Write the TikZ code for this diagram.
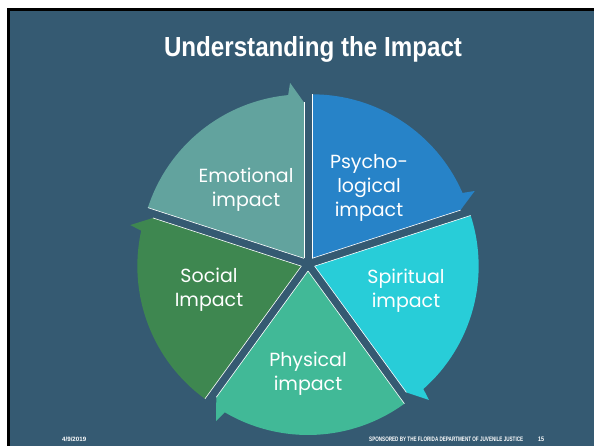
\documentclass[tikz,border=0pt]{standalone}
\usepackage{fontspec}
\setmainfont{Poppins}
\newfontfamily\titlefont{Liberation Sans}
\usetikzlibrary{calc}
\definecolor{bg}{HTML}{355A72}
\definecolor{emo}{HTML}{62A39E}
\definecolor{psy}{HTML}{2783C8}
\definecolor{spi}{HTML}{28CDD8}
\definecolor{phy}{HTML}{41B997}
\definecolor{soc}{HTML}{3E8750}
\tikzset{
  lbl/.style={text=white, align=center, inner sep=0pt, font=\fontsize{19}{24}\selectfont},
  edgeline/.style={white, line width=0.6pt},
  foot/.style={text=white, anchor=base west, inner sep=0pt}
}
\begin{document}
\begin{tikzpicture}[x=1pt,y=1pt]
\useasboundingbox (0,0) rectangle (594,446);
\fill[white] (0,0) rectangle (594,446);
\fill[black] (7,0) rectangle (594,438);
\fill[bg] (10,0) rectangle (594,435);
% title
\node[text=white, anchor=base, inner sep=0pt] (title) at (313,389)
  {\resizebox{298pt}{20pt}{\titlefont\bfseries Understanding the Impact}};
% sectors
\foreach \ph/\col in {54/psy, -18/spi, -90/phy, -162/soc, 126/emo}{
  \begin{scope}[shift={(308,182)}, shift={(\ph:7)}]
    \fill[\col] (0,0) -- (\ph+36:164) arc[start angle=\ph+36, end angle=\ph-30.5, radius=164]
      -- (\ph-31.5:176) -- (\ph-36:156) -- cycle;
    \draw[edgeline] (0,0) -- (\ph+36:164);
    \draw[edgeline] (0,0) -- (\ph-36:156);
  \end{scope}
}
% labels
\node[lbl] (emol) at (246,256) {Emotional\\impact};
\node[lbl] (psyl) at (369,258) {Psycho-\\logical\\impact};
\node[lbl] (spil) at (406,155) {Spiritual\\impact};
\node[lbl] (socl) at (209,156) {Social\\Impact};
\node[lbl] (phyl) at (308,72) {Physical\\impact};
% footer
\node[foot] (date) at (62,4) {\resizebox{24pt}{4.5pt}{\titlefont\bfseries 4/9/2019}};
\node[foot] (spons) at (369,4) {\resizebox{154pt}{4.5pt}{\titlefont\bfseries SPONSORED BY THE FLORIDA DEPARTMENT OF JUVENILE JUSTICE}};
\node[foot] (pnum) at (538,4) {\resizebox{6pt}{4.5pt}{\titlefont\bfseries 15}};
\end{tikzpicture}
\end{document}
